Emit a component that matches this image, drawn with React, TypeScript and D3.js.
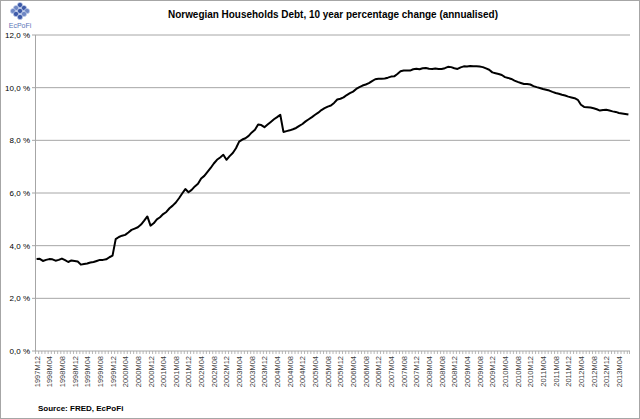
import React from "react";
import * as d3 from "d3";

const W = 640;
const H = 419;

const startYear = 1997;
const startMonth = 12;

const debtGrowth: number[] = [
  // 1997M12 .. 1998M11
  3.49, 3.5, 3.42, 3.46, 3.49, 3.48, 3.43, 3.46, 3.51, 3.45, 3.38, 3.44,
  // 1998M12 .. 1999M11
  3.42, 3.4, 3.28, 3.3, 3.32, 3.36, 3.38, 3.42, 3.46, 3.46, 3.48, 3.56,
  // 1999M12 .. 2000M11
  3.62, 4.25, 4.33, 4.38, 4.41, 4.5, 4.6, 4.65, 4.7, 4.8, 4.95, 5.11,
  // 2000M12 .. 2001M11
  4.76, 4.85, 5.0, 5.08, 5.2, 5.28, 5.42, 5.52, 5.64, 5.8, 5.98, 6.15,
  // 2001M12 .. 2002M11
  6.03, 6.12, 6.25, 6.35, 6.55, 6.65, 6.8, 6.95, 7.12, 7.26, 7.35, 7.45,
  // 2002M12 .. 2003M11
  7.26, 7.4, 7.52, 7.7, 7.95, 8.03, 8.08, 8.17, 8.3, 8.4, 8.6, 8.58,
  // 2003M12 .. 2004M11
  8.5, 8.6, 8.7, 8.8, 8.88, 8.97, 8.32, 8.35, 8.38, 8.42, 8.47, 8.55,
  // 2004M12 .. 2005M11
  8.62, 8.72, 8.8, 8.88, 8.97, 9.05, 9.15, 9.22, 9.28, 9.32, 9.42, 9.55,
  // 2005M12 .. 2006M11
  9.58, 9.63, 9.72, 9.79, 9.85, 9.95, 10.02, 10.08, 10.12, 10.17, 10.25, 10.32,
  // 2006M12 .. 2007M11
  10.34, 10.34, 10.35, 10.38, 10.42, 10.43, 10.52, 10.62, 10.65, 10.65, 10.65, 10.7,
  // 2007M12 .. 2008M11
  10.72, 10.7, 10.74, 10.75, 10.72, 10.71, 10.73, 10.71, 10.71, 10.74, 10.79, 10.78,
  // 2008M12 .. 2009M11
  10.74, 10.71, 10.77, 10.81, 10.8, 10.82, 10.81, 10.81, 10.8, 10.78, 10.73, 10.68,
  // 2009M12 .. 2010M11
  10.58, 10.55, 10.52, 10.48, 10.4, 10.37, 10.33, 10.27, 10.22, 10.18, 10.14, 10.14,
  // 2010M12 .. 2011M11
  10.12, 10.06, 10.02, 9.99, 9.95, 9.92, 9.89, 9.84, 9.8, 9.77, 9.73, 9.7,
  // 2011M12 .. 2012M11
  9.66, 9.63, 9.6, 9.54, 9.35, 9.27, 9.26, 9.25, 9.22, 9.18, 9.13, 9.15,
  // 2012M12 .. 2013M07
  9.16, 9.13, 9.1, 9.08, 9.04, 9.02, 9.0, 8.98,
];

const categories: string[] = debtGrowth.map((_, i) => {
  const m0 = startMonth - 1 + i;
  const y = startYear + Math.floor(m0 / 12);
  const m = (m0 % 12) + 1;
  return `${y}M${m < 10 ? "0" + m : m}`;
});

const yTicks: number[] = [0, 2, 4, 6, 8, 10, 12];
const labelEvery = 4;

const title = "Norwegian Households Debt, 10 year percentage change (annualised)";
const source = "Source: FRED, EcPoFi";

export default function App() {
  const left = 35;
  const right = 630;
  const top = 35;
  const bottom = 351;

  const x = d3
    .scaleBand<string>()
    .domain(categories)
    .range([left, right])
    .paddingInner(0)
    .paddingOuter(0);
  const y = d3.scaleLinear().domain([0, 12]).range([bottom, top]);

  const cx = (c: string) => (x(c) as number) + x.bandwidth() / 2;

  const line = d3
    .line<number>()
    .x((_, i) => cx(categories[i]))
    .y((d) => y(d));

  const font = "'Liberation Sans', Arial, sans-serif";

  return (
    <svg
      width={W}
      height={H}
      style={{ position: "absolute", left: 0, top: 0, background: "#fff" }}
      fontFamily={font}
    >
      <rect x={0.5} y={0.5} width={W - 1} height={H - 1} fill="#fff" stroke="#a6a6a6" />

      {/* logo */}
      <g transform="translate(20,11)">
        {[
          [0, -6], [-4, -3], [4, -3], [-7, 0], [0, 0], [7, 0], [-4, 3], [4, 3], [0, 6],
        ].map(([dx, dy], k) => (
          <circle key={k} cx={dx} cy={dy} r={2.6} fill={k % 2 ? "#6f87c4" : "#3d5aa8"} stroke="#c8d3ee" strokeWidth={0.6} />
        ))}
      </g>
      <text x={20} y={28} fontSize={7} fill="#5a74b8" textAnchor="middle">
        EcPoFi
      </text>

      <text
        x={168}
        y={18}
        fontSize={10.5}
        fontWeight="bold"
        fill="#000"
        textLength={330}
        lengthAdjust="spacingAndGlyphs"
      >
        {title}
      </text>

      {/* gridlines */}
      {yTicks.map((t) => (
        <line key={t} x1={left} x2={right} y1={y(t)} y2={y(t)} stroke="#a6a6a6" strokeWidth={1} />
      ))}
      {/* y axis */}
      <line x1={left + 0.5} x2={left + 0.5} y1={top} y2={bottom} stroke="#a6a6a6" />
      {yTicks.map((t) => (
        <g key={"yt" + t}>
          <line x1={left - 3} x2={left} y1={y(t)} y2={y(t)} stroke="#a6a6a6" />
          <text x={left - 5} y={y(t) + 3} fontSize={8} textAnchor="end" fill="#000">
            {`${t.toFixed(1).replace(".", ",")} %`}
          </text>
        </g>
      ))}

      {/* x ticks */}
      {categories.map((c) => (
        <line
          key={"xt" + c}
          x1={(x(c) as number) + 0.5}
          x2={(x(c) as number) + 0.5}
          y1={bottom}
          y2={bottom + 3}
          stroke="#a6a6a6"
          strokeWidth={0.8}
        />
      ))}
      <line x1={right - 0.5} x2={right - 0.5} y1={bottom} y2={bottom + 3} stroke="#a6a6a6" strokeWidth={0.8} />

      {categories.map((c, i) =>
        i % labelEvery === 0 ? (
          <text
            key={"xl" + c}
            transform={`translate(${cx(c) + 3},${bottom + 5}) rotate(-90)`}
            fontSize={7.5}
            textAnchor="end"
            fill="#404040"
          >
            {c}
          </text>
        ) : null
      )}

      <path d={line(debtGrowth) || ""} fill="none" stroke="#000" strokeWidth={2} strokeLinejoin="round" />

      <text x={38} y={411} fontSize={8} fontWeight="bold" fill="#000">
        {source}
      </text>
    </svg>
  );
}
